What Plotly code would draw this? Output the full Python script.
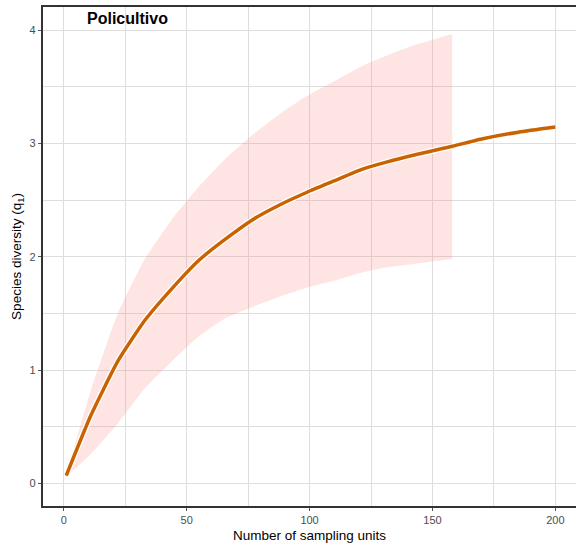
import plotly.graph_objects as go

# Rarefaction / extrapolation curve (Hill number q = 1)
line_x = [1, 11, 22, 33, 44, 55, 66, 77, 88, 99, 110, 121, 132, 143, 154, 158, 170, 185, 200]
line_y = [0.07, 0.60, 1.08, 1.44, 1.72, 1.97, 2.16, 2.33, 2.46, 2.57, 2.67, 2.77, 2.84,
          2.90, 2.955, 2.975, 3.04, 3.10, 3.145]

# Confidence band
ci_x = [1, 11, 22, 33, 44, 55, 66, 77, 88, 99, 110, 121, 132, 143, 154, 158]
ci_upper = [0.08, 0.82, 1.50, 1.98, 2.33, 2.62, 2.87, 3.08, 3.26, 3.42, 3.55, 3.68,
            3.78, 3.87, 3.94, 3.965]
ci_lower = [0.06, 0.26, 0.53, 0.84, 1.08, 1.30, 1.46, 1.56, 1.65, 1.73, 1.79, 1.86,
            1.91, 1.94, 1.97, 1.98]

x_ticks = [0, 50, 100, 150, 200]
y_ticks = [0, 1, 2, 3, 4]
title_text = "Policultivo"

fig = go.Figure()
fig.add_trace(go.Scatter(
    x=ci_x, y=ci_upper, mode="lines", line=dict(width=0, shape="spline", smoothing=0.5),
    hoverinfo="skip", showlegend=False))
fig.add_trace(go.Scatter(
    x=ci_x, y=ci_lower, mode="lines", line=dict(width=0, shape="spline", smoothing=0.5),
    fill="tonexty", fillcolor="rgba(248,118,109,0.2)",
    hoverinfo="skip", showlegend=False))
fig.add_trace(go.Scatter(
    x=line_x, y=line_y, mode="lines",
    line=dict(color="white", width=6, shape="spline", smoothing=0.5),
    showlegend=False, hoverinfo="skip"))
fig.add_trace(go.Scatter(
    x=line_x, y=line_y, mode="lines",
    line=dict(color="#C96200", width=3.5, shape="spline", smoothing=0.5),
    showlegend=False))

grid = "#DEDEDE"
fig.update_layout(
    width=576, height=550,
    margin=dict(l=42.5, r=0, t=7, b=44.3),
    paper_bgcolor="white", plot_bgcolor="white",
    font=dict(family="Liberation Sans, Arial, sans-serif", color="#000000"),
    xaxis=dict(
        range=[-8.45, 208.4], tickvals=x_ticks, ticks="outside", ticklen=3.5,
        tickcolor="#555555", tickfont=dict(size=11, color="#4D4D4D"),
        showgrid=True, gridcolor=grid, gridwidth=1,
        minor=dict(tickvals=[25, 75, 125, 175], showgrid=True, gridcolor=grid, gridwidth=1),
        showline=True, linecolor="#333333", linewidth=1.5, mirror=True,
        zeroline=False,
        title=dict(text="Number of sampling units", font=dict(size=13.5, color="#000000"), standoff=5),
    ),
    yaxis=dict(
        range=[-0.198, 4.204], tickvals=y_ticks, ticks="outside", ticklen=3.5,
        tickcolor="#555555", tickfont=dict(size=11, color="#4D4D4D"),
        showgrid=True, gridcolor=grid, gridwidth=1,
        minor=dict(tickvals=[0.5, 1.5, 2.5, 3.5], showgrid=True, gridcolor=grid, gridwidth=1),
        showline=True, linecolor="#333333", linewidth=1.5,
        zeroline=False,
        title=dict(text="Species diversity (q<sub>1</sub>)", font=dict(size=13.5, color="#000000"), standoff=5),
    ),
    annotations=[dict(
        text="<b>" + title_text + "</b>", xref="paper", yref="paper",
        x=0.0797, y=1, xanchor="left", yanchor="top", yshift=-1,
        showarrow=False, font=dict(size=16, color="#000000"))],
)

fig.write_html("out.html")
